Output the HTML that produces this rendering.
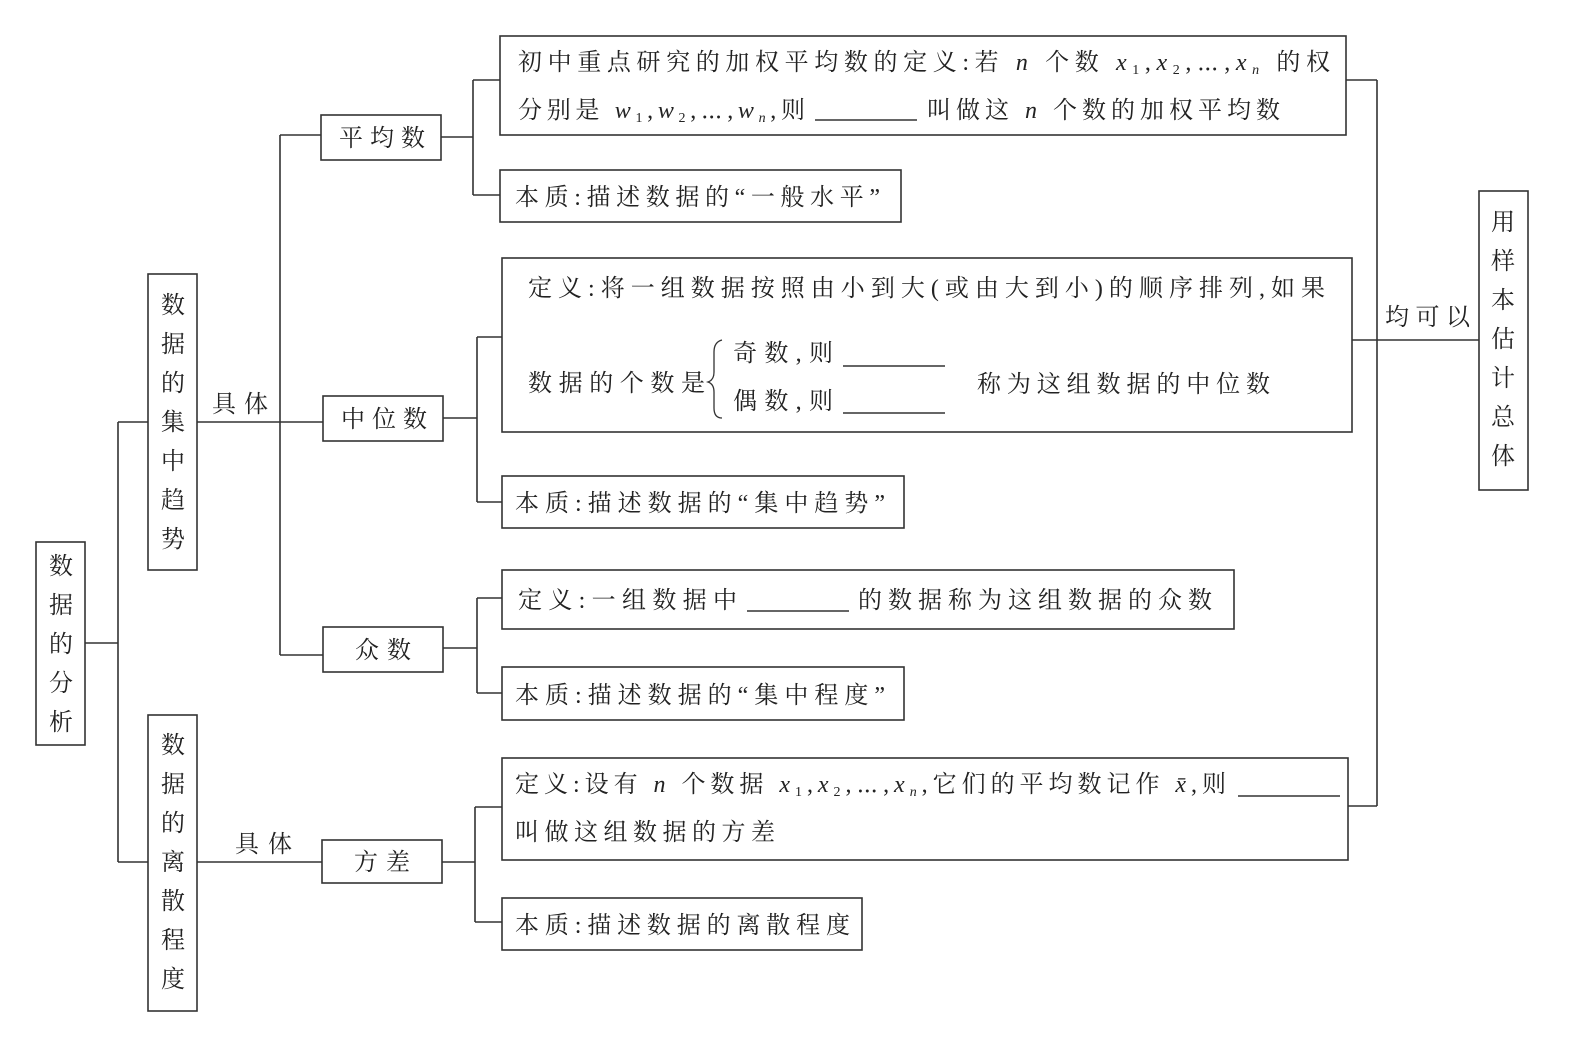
<!DOCTYPE html>
<html><head><meta charset="utf-8"><style>
html,body{margin:0;padding:0;background:#fff;}
svg{display:block;}
text{font-family:"Liberation Serif","Noto Serif CJK SC","Noto Sans CJK SC",serif;font-size:24px;fill:#222;}
.i{font-style:italic;font-family:"Liberation Serif",serif;}
.s{font-size:14px;}
</style></head><body>
<svg width="1580" height="1049" viewBox="0 0 1580 1049" xmlns="http://www.w3.org/2000/svg">
<g fill="none" stroke="#333" stroke-width="1.6">
<!-- boxes -->
<rect x="36" y="542" width="49" height="203"/>
<rect x="148" y="274" width="49" height="296"/>
<rect x="148" y="715" width="49" height="296"/>
<rect x="321" y="115" width="120" height="45"/>
<rect x="323" y="396" width="120" height="45"/>
<rect x="323" y="627" width="120" height="45"/>
<rect x="322" y="840" width="120" height="43"/>
<rect x="500" y="36" width="846" height="99"/>
<rect x="500" y="170" width="401" height="52"/>
<rect x="502" y="258" width="850" height="174"/>
<rect x="502" y="476" width="402" height="52"/>
<rect x="502" y="570" width="732" height="59"/>
<rect x="502" y="667" width="402" height="53"/>
<rect x="502" y="758" width="846" height="102"/>
<rect x="502" y="898" width="360" height="52"/>
<rect x="1479" y="191" width="49" height="299"/>
<!-- connectors -->
<path d="M85 643H118M118 422V862M118 422H148M118 862H148"/>
<path d="M197 422H323M280 135V655M280 135H321M280 655H323"/>
<path d="M197 862H322"/>
<path d="M441 137H473M473 80V195M473 80H500M473 195H500"/>
<path d="M443 418H477M477 337V502M477 337H502M477 502H502"/>
<path d="M443 648H477M477 598V693M477 598H502M477 693H502"/>
<path d="M442 862H475M475 807V922M475 807H502M475 922H502"/>
<path d="M1346 80H1377M1377 80V806M1348 806H1377M1352 340H1479"/>
<!-- blanks -->
<path d="M815 120H917M843 366H945M843 413H945M747 611H849M1238 796H1340"/>
<!-- brace -->
<path d="M722 340Q714 342 714 352V372Q714 380 708 382Q714 384 714 392V408Q714 418 722 418" stroke-width="1.3"/>
</g>
<!-- vertical texts -->
<g text-anchor="middle">
<text x="61" y="574">数</text><text x="61" y="613">据</text><text x="61" y="652">的</text><text x="61" y="691">分</text><text x="61" y="730">析</text>
<text x="173" y="313">数</text><text x="173" y="352">据</text><text x="173" y="391">的</text><text x="173" y="430">集</text><text x="173" y="469">中</text><text x="173" y="508">趋</text><text x="173" y="547">势</text>
<text x="173" y="753">数</text><text x="173" y="792">据</text><text x="173" y="831">的</text><text x="173" y="870">离</text><text x="173" y="909">散</text><text x="173" y="948">程</text><text x="173" y="987">度</text>
<text x="1503" y="230">用</text><text x="1503" y="269">样</text><text x="1503" y="308">本</text><text x="1503" y="347">估</text><text x="1503" y="386">计</text><text x="1503" y="425">总</text><text x="1503" y="464">体</text>
</g>
<text x="212" y="412" textLength="56" lengthAdjust="spacing">具体</text>
<text x="235" y="852" textLength="57" lengthAdjust="spacing">具体</text>
<text x="1385" y="325" textLength="85" lengthAdjust="spacing">均可以</text>
<text x="339" y="146" textLength="86" lengthAdjust="spacing">平均数</text>
<text x="341" y="427" textLength="86" lengthAdjust="spacing">中位数</text>
<text x="355" y="658" textLength="56" lengthAdjust="spacing">众数</text>
<text x="354" y="870" textLength="56" lengthAdjust="spacing">方差</text>
<!-- box A -->
<text x="518" y="70" textLength="812" lengthAdjust="spacing">初中重点研究的加权平均数的定义:若 <tspan class="i">n</tspan> 个数 <tspan class="i">x</tspan><tspan class="s" dy="4">1</tspan><tspan dy="-4">,</tspan><tspan class="i">x</tspan><tspan class="s" dy="4">2</tspan><tspan dy="-4">,⋯,</tspan><tspan class="i">x</tspan><tspan class="s i" dy="4">n</tspan><tspan dy="-4"> 的权</tspan></text>
<text x="518" y="118" textLength="287" lengthAdjust="spacing">分别是 <tspan class="i">w</tspan><tspan class="s" dy="4">1</tspan><tspan dy="-4">,</tspan><tspan class="i">w</tspan><tspan class="s" dy="4">2</tspan><tspan dy="-4">,⋯,</tspan><tspan class="i">w</tspan><tspan class="s i" dy="4">n</tspan><tspan dy="-4">,则</tspan></text>
<text x="927" y="118" textLength="353" lengthAdjust="spacing">叫做这 <tspan class="i">n</tspan> 个数的加权平均数</text>
<text x="515" y="205" textLength="365" lengthAdjust="spacing">本质:描述数据的“一般水平”</text>
<!-- box C -->
<text x="528" y="296" textLength="797" lengthAdjust="spacing">定义:将一组数据按照由小到大(或由大到小)的顺序排列,如果</text>
<text x="528" y="391" textLength="177" lengthAdjust="spacing">数据的个数是</text>
<text x="733" y="361" textLength="100" lengthAdjust="spacing">奇数,则</text>
<text x="733" y="409" textLength="100" lengthAdjust="spacing">偶数,则</text>
<text x="977" y="392" textLength="293" lengthAdjust="spacing">称为这组数据的中位数</text>
<text x="515" y="511" textLength="370" lengthAdjust="spacing">本质:描述数据的“集中趋势”</text>
<text x="518" y="608" textLength="219" lengthAdjust="spacing">定义:一组数据中</text>
<text x="858" y="608" textLength="354" lengthAdjust="spacing">的数据称为这组数据的众数</text>
<text x="515" y="703" textLength="370" lengthAdjust="spacing">本质:描述数据的“集中程度”</text>
<!-- box G -->
<text x="515" y="792" textLength="711" lengthAdjust="spacing">定义:设有 <tspan class="i">n</tspan> 个数据 <tspan class="i">x</tspan><tspan class="s" dy="4">1</tspan><tspan dy="-4">,</tspan><tspan class="i">x</tspan><tspan class="s" dy="4">2</tspan><tspan dy="-4">,⋯,</tspan><tspan class="i">x</tspan><tspan class="s i" dy="4">n</tspan><tspan dy="-4">,它们的平均数记作 </tspan><tspan class="i">x̄</tspan>,则</text>
<text x="515" y="840" textLength="260" lengthAdjust="spacing">叫做这组数据的方差</text>
<text x="515" y="933" textLength="335" lengthAdjust="spacing">本质:描述数据的离散程度</text>
</svg>
</body></html>
